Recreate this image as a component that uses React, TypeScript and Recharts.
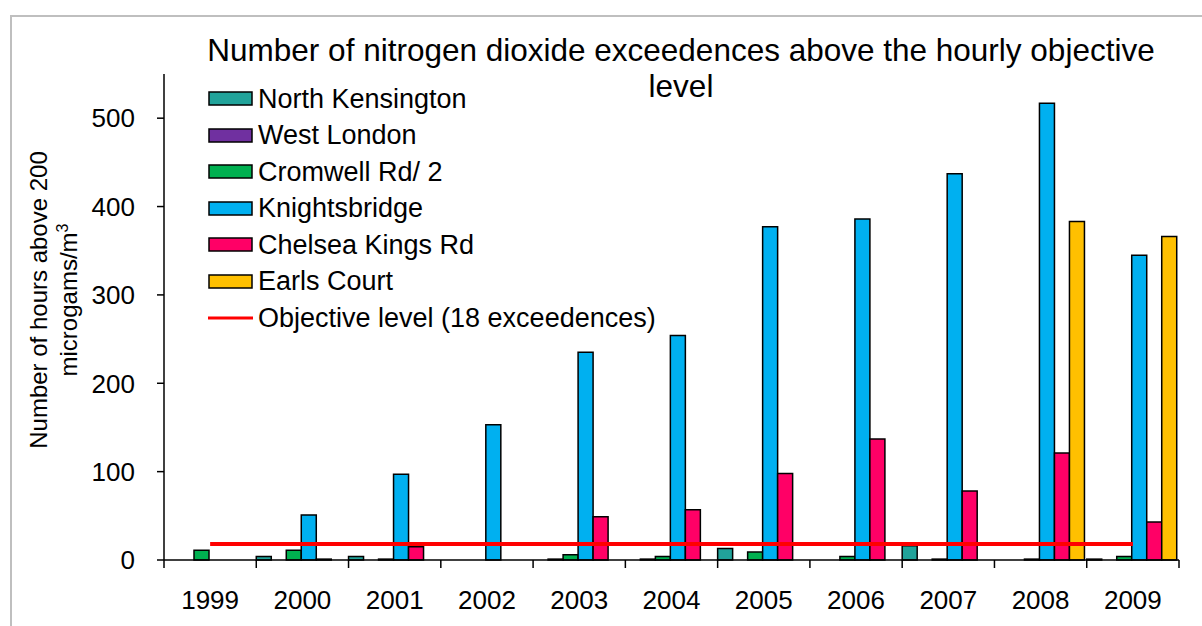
import React from 'react';
import { Bar, ComposedChart, Line, XAxis, YAxis } from 'recharts';

const years = ['1999', '2000', '2001', '2002', '2003', '2004', '2005', '2006', '2007', '2008', '2009'];
const northKensington = [null, 4, 4, null, null, null, 13, null, 16, null, 1];
const westLondon = [null, null, null, null, 1, 1, null, null, null, null, null];
const cromwellRd = [11, 11, 1, null, 6, 4, 9, 4, 1, 1, 4];
const knightsbridge = [null, 51, 97, 153, 235, 254, 377, 386, 437, 517, 345];
const chelseaKingsRd = [null, 1, 15, null, 49, 57, 98, 137, 78, 121, 43];
const earlsCourt = [null, null, null, null, null, null, null, null, null, 383, 366];
const objective = [18, 18, 18, 18, 18, 18, 18, 18, 18, 18, 18];
const yTicks = [0, 100, 200, 300, 400, 500];

const series = [
  { key: 'nk', name: 'North Kensington', color: '#21A39A', values: northKensington },
  { key: 'wl', name: 'West London', color: '#7030A0', values: westLondon },
  { key: 'cr', name: 'Cromwell Rd/ 2', color: '#00B050', values: cromwellRd },
  { key: 'kb', name: 'Knightsbridge', color: '#00B0F0', values: knightsbridge },
  { key: 'ch', name: 'Chelsea Kings Rd', color: '#FF0066', values: chelseaKingsRd },
  { key: 'ec', name: 'Earls Court', color: '#FFC000', values: earlsCourt },
];

const data = years.map((year, i) => {
  const row: Record<string, string | number | null> = { year, objective: objective[i] };
  series.forEach((s) => {
    row[s.key] = s.values[i];
  });
  return row;
});

const FONT = '"Liberation Sans", Arial, sans-serif';
const BAND = (1179 - 164) / years.length;

const XTick = (props: any) => {
  const { x, y, payload, index } = props;
  return (
    <g>
      <line x1={x - BAND / 2} y1={y} x2={x - BAND / 2} y2={y + 8} stroke="#000" strokeWidth={1.5} />
      {index === years.length - 1 && (
        <line x1={x + BAND / 2} y1={y} x2={x + BAND / 2} y2={y + 8} stroke="#000" strokeWidth={1.5} />
      )}
      <text x={x} y={y + 40} dy="0.355em" textAnchor="middle" fontSize={26} fontFamily={FONT} fill="#000">
        {payload.value}
      </text>
    </g>
  );
};

const YLabel = () => (
  <text transform="translate(0, 300) rotate(-90)" textAnchor="middle" fontSize={24} fontFamily={FONT} fill="#000">
    <tspan x={0} y={47}>Number of hours above 200</tspan>
    <tspan x={0} y={77}>
      microgams/m<tspan dy={-9} fontSize={16}>3</tspan>
    </tspan>
  </text>
);

const LegendBox = () => (
  <div style={{ position: 'absolute', left: 207, top: 81, fontFamily: FONT, fontSize: 27, color: '#000' }}>
    {series.map((s) => (
      <div key={s.key} style={{ display: 'flex', alignItems: 'center', height: 36.5, whiteSpace: 'nowrap' }}>
        <svg width={48} height={16} style={{ marginRight: 3 }}>
          <rect x={2} y={1} width={43} height={13} fill={s.color} stroke="#000" strokeWidth={1.5} />
        </svg>
        <span>{s.name}</span>
      </div>
    ))}
    <div style={{ display: 'flex', alignItems: 'center', height: 36.5, whiteSpace: 'nowrap' }}>
      <svg width={48} height={16} style={{ marginRight: 3 }}>
        <line x1={1} y1={8} x2={46} y2={8} stroke="#FF0000" strokeWidth={3} />
      </svg>
      <span>Objective level (18 exceedences)</span>
    </div>
  </div>
);

export default function App() {
  return (
    <div style={{ position: 'absolute', left: 0, top: 0, width: 1202, height: 626, overflow: 'hidden', background: '#fff' }}>
      <div
        style={{
          position: 'absolute',
          left: 10,
          top: 15,
          width: 1220,
          height: 640,
          border: '2px solid #BFBFBF',
        }}
      />
      <div style={{ position: 'absolute', left: 0, top: 0 }}>
        <ComposedChart
          width={1202}
          height={626}
          data={data}
          margin={{ top: 74, right: 23, bottom: 16, left: 84 }}
          barCategoryGap={0}
          barGap={0}
        >
          <XAxis
            dataKey="year"
            axisLine={{ stroke: '#000', strokeWidth: 1.5 }}
            tickLine={false}
            tickSize={0}
            tickMargin={0}
            height={50}
            interval={0}
            tick={<XTick />}
          />
          <YAxis
            domain={[0, 550]}
            ticks={yTicks}
            width={80}
            axisLine={{ stroke: '#000', strokeWidth: 1.5 }}
            tickLine={{ stroke: '#000', strokeWidth: 1.5 }}
            tickSize={7}
            tickMargin={22}
            tick={{ fontSize: 26, fontFamily: FONT, fill: '#000' }}
            label={<YLabel />}
          />
          {series.map((s) => (
            <Bar
              key={s.key}
              dataKey={s.key}
              name={s.name}
              fill={s.color}
              stroke="#000"
              strokeWidth={1.5}
              isAnimationActive={false}
            />
          ))}
          <Line
            dataKey="objective"
            name="Objective level (18 exceedences)"
            stroke="#FF0000"
            strokeWidth={4}
            dot={false}
            activeDot={false}
            isAnimationActive={false}
          />
        </ComposedChart>
      </div>
      <LegendBox />
      <div
        style={{
          position: 'absolute',
          left: 131,
          top: 32,
          width: 1100,
          textAlign: 'center',
          fontFamily: FONT,
          fontSize: 31.5,
          lineHeight: '36px',
          color: '#000',
        }}
      >
        Number of nitrogen dioxide exceedences above the hourly objective
        <br />
        level
      </div>
    </div>
  );
}
